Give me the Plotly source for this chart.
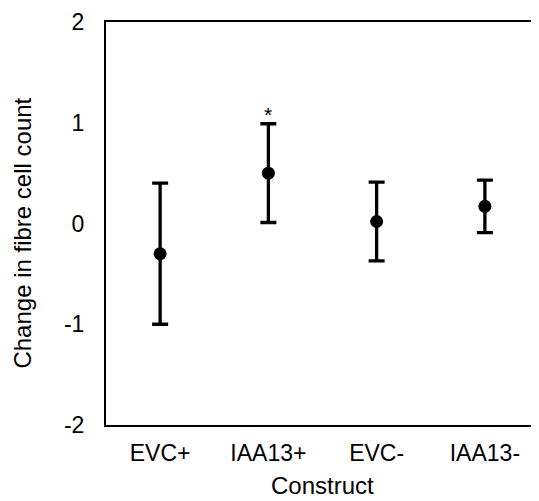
import plotly.graph_objects as go

constructs = ["EVC+", "IAA13+", "EVC-", "IAA13-"]
mean_change = [-0.30, 0.50, 0.02, 0.17]
error = [0.70, 0.49, 0.39, 0.26]
significant = ["", "*", "", ""]
y_ticks = [-2, -1, 0, 1, 2]
y_tick_labels = ["-2", "-1", "0", "1", "2"]

FONT = "Liberation Sans, Arial, sans-serif"

fig = go.Figure()
fig.add_trace(go.Scatter(
    x=constructs, y=mean_change, mode="markers",
    marker=dict(color="black", size=13),
    error_y=dict(type="data", array=error, visible=True, color="black",
                 thickness=3.3, width=8),
    showlegend=False,
))

for c, m, e, s in zip(constructs, mean_change, error, significant):
    if s:
        fig.add_annotation(x=c, y=m + e, text=s, showarrow=False,
                           yanchor="bottom", yshift=-4,
                           font=dict(family=FONT, size=21, color="black"))

# axis titles as annotations for precise placement
fig.add_annotation(xref="paper", yref="paper", x=0.5, y=0, yshift=-60,
                   text="Construct", showarrow=False, yanchor="middle",
                   borderpad=0,
                   font=dict(family=FONT, size=24, color="black"))
fig.add_annotation(xref="paper", yref="paper", x=0, y=0.475, xshift=-83,
                   text="Change in fibre cell count", showarrow=False,
                   textangle=-90, xanchor="center", yanchor="middle",
                   font=dict(family=FONT, size=24, color="black"))

fig.update_layout(
    width=531, height=493,
    margin=dict(l=98, r=0, t=14, b=76),
    paper_bgcolor="white", plot_bgcolor="white",
    font=dict(family=FONT, size=23, color="black"),
    xaxis=dict(
        range=[-0.5, 3.5], showline=True, linecolor="black", linewidth=2,
        mirror=True, showgrid=False, zeroline=False, ticks="",
        ticklabelstandoff=6,
    ),
    yaxis=dict(
        range=[-2, 2], tickvals=y_ticks, ticktext=y_tick_labels,
        showline=True, linecolor="black", linewidth=2,
        mirror=False, showgrid=False, zeroline=False, ticks="",
        ticklabelstandoff=15,
    ),
)

fig.write_html("out.html")
